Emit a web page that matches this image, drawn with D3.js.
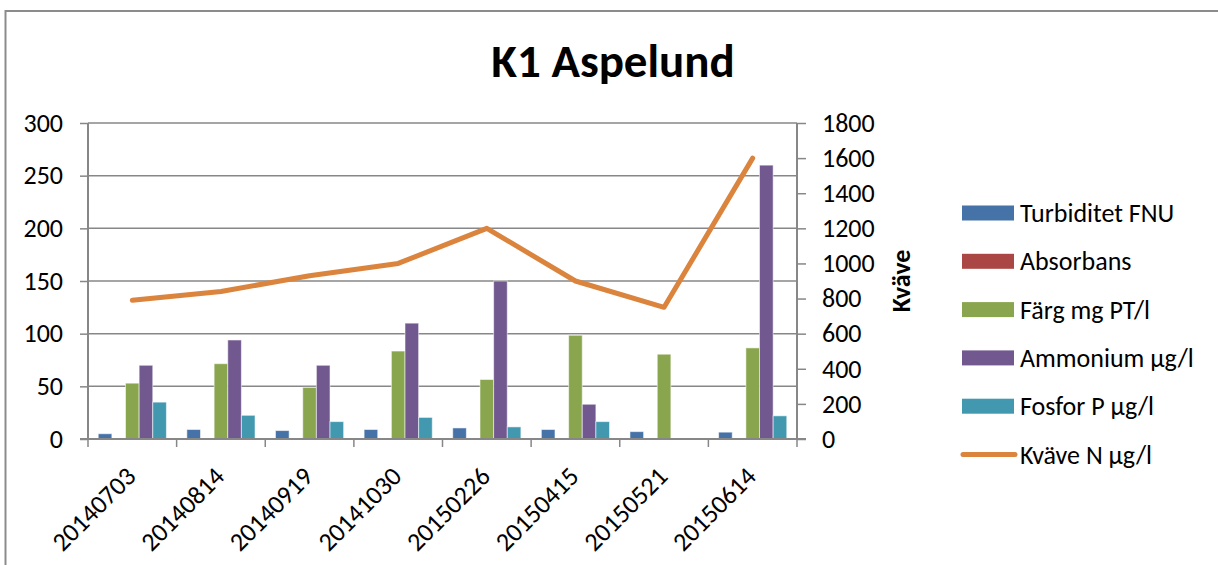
<!DOCTYPE html>
<html>
<head>
<meta charset="utf-8">
<script src="https://cdn.jsdelivr.net/npm/d3@7"></script>
<style>
  body { margin: 0; background: #fff; }
  svg text { font-family: Calibri, Carlito, Lato, sans-serif; fill: #000; }
</style>
</head>
<body>
<div id="chart"></div>
<script>
// Data
const dates = ['20140703', '20140814', '20140919', '20141030', '20150226', '20150415', '20150521', '20150614'];
const turbiditet = [5, 9, 8, 9, 10.5, 9, 7, 6.5];
const absorbans = [0, 0, 0, 0, 0, 0, 0, 0];
const farg = [53, 71.5, 49, 83.5, 56.5, 98.5, 80.5, 86.5];
const ammonium = [70, 94, 70, 110, 150, 33, null, 260];
const fosfor = [35, 22.5, 16.5, 20.5, 11.5, 16.5, null, 22];
const kvave = [790, 840, 930, 1000, 1200, 900, 750, 1600];

const leftTicks = [0, 50, 100, 150, 200, 250, 300];
const rightTicks = [0, 200, 400, 600, 800, 1000, 1200, 1400, 1600, 1800];

const barSeries = [
    {name: 'Turbiditet FNU', values: turbiditet, color: '#4572A7'},
    {name: 'Absorbans', values: absorbans, color: '#AA4643'},
    {name: 'Färg mg PT/l', values: farg, color: '#89A54E'},
    {name: 'Ammonium µg/l', values: ammonium, color: '#71588F'},
    {name: 'Fosfor P µg/l', values: fosfor, color: '#4198AF'}
];
const lineSeries = {name: 'Kväve N µg/l', values: kvave, color: '#DB843D'};

const width = 1218;
const height = 565;
const plot = {left: 88, right: 797, top: 123, bottom: 439};
const gridColor = '#878787';
const fontSize = '26px';

const svg = d3.select('#chart').append('svg')
    .attr('width', width)
    .attr('height', height);

// outer frame
svg.append('rect')
    .attr('x', 5.5).attr('y', 11)
    .attr('width', width + 20).attr('height', height + 20)
    .attr('fill', 'none')
    .attr('stroke', '#8c8c8c')
    .attr('stroke-width', 2);

// title
svg.append('text')
    .attr('x', 613).attr('y', 77)
    .attr('text-anchor', 'middle')
    .style('font-size', '47px')
    .style('font-weight', 'bold')
    .text('K1 Aspelund');

// Scales
let x = d3.scaleBand()
    .domain(dates)
    .range([plot.left, plot.right]);

let bw = x.bandwidth();
let barW = bw / 6.5;
let xInner = d3.scaleBand()
    .domain(barSeries.map(s => s.name))
    .range([barW * 0.75, bw - barW * 0.75]);

let yLeft = d3.scaleLinear().domain([0, 300]).range([plot.bottom, plot.top]);
let yRight = d3.scaleLinear().domain([0, 1800]).range([plot.bottom, plot.top]);

// gridlines
svg.append('g')
    .selectAll('line')
    .data(leftTicks.filter(d => d > 0)).enter()
    .append('line')
    .attr('x1', plot.left).attr('x2', plot.right)
    .attr('y1', d => yLeft(d)).attr('y2', d => yLeft(d))
    .attr('stroke', gridColor)
    .attr('stroke-width', 1.5);

// bars
let groups = svg.append('g')
    .selectAll('g')
    .data(barSeries).enter()
    .append('g')
    .attr('fill', d => d.color);

groups.selectAll('rect')
    .data(s => s.values.map((v, i) => ({name: s.name, date: dates[i], value: v})).filter(d => d.value))
    .enter()
    .append('rect')
    .attr('x', d => x(d.date) + xInner(d.name))
    .attr('width', xInner.bandwidth())
    .attr('y', d => yLeft(d.value))
    .attr('height', d => plot.bottom - yLeft(d.value))
    .attr('stroke', 'rgba(255,255,255,0.55)')
    .attr('stroke-width', 1);

// line
let line = d3.line()
    .x((d, i) => x(dates[i]) + bw / 2)
    .y(d => yRight(d));

svg.append('path')
    .attr('d', line(lineSeries.values))
    .attr('fill', 'none')
    .attr('stroke', lineSeries.color)
    .attr('stroke-width', 5)
    .attr('stroke-linecap', 'round')
    .attr('stroke-linejoin', 'round');

// Axes
let leftAxis = d3.axisLeft(yLeft).tickValues(leftTicks).tickSize(8).tickPadding(17);
let gL = svg.append('g')
    .attr('transform', `translate(${plot.left},0)`)
    .call(leftAxis);

let rightAxis = d3.axisRight(yRight).tickValues(rightTicks).tickFormat(d3.format('d')).tickSize(9).tickPadding(16);
let gR = svg.append('g')
    .attr('transform', `translate(${plot.right},0)`)
    .call(rightAxis);

[gL, gR].forEach(g => {
    g.select('.domain').attr('stroke', gridColor).attr('stroke-width', 2);
    g.selectAll('.tick line').attr('stroke', gridColor).attr('stroke-width', 1.5);
    g.selectAll('.tick text')
        .style('font-size', fontSize)
        .style('font-family', 'Calibri, Carlito, Lato, sans-serif')
        .attr('fill', '#000');
});
gL.select('.domain').attr('d', `M0,${plot.top}V${plot.bottom}`);
gR.select('.domain').attr('d', `M0,${plot.top}V${plot.bottom}`);

// bottom axis
let gB = svg.append('g');
gB.append('line')
    .attr('x1', plot.left - 8).attr('x2', plot.right + 9)
    .attr('y1', plot.bottom).attr('y2', plot.bottom)
    .attr('stroke', gridColor)
    .attr('stroke-width', 2);

gB.selectAll('.btick')
    .data(dates.concat(['end'])).enter()
    .append('line')
    .attr('class', 'btick')
    .attr('x1', d => d === 'end' ? plot.right : x(d))
    .attr('x2', d => d === 'end' ? plot.right : x(d))
    .attr('y1', plot.bottom).attr('y2', plot.bottom + 8)
    .attr('stroke', gridColor)
    .attr('stroke-width', 1.5);

gB.selectAll('.blabel')
    .data(dates).enter()
    .append('text')
    .attr('class', 'blabel')
    .attr('text-anchor', 'end')
    .attr('transform', d => `translate(${x(d) + bw / 2 + 5},${478}) rotate(-45)`)
    .style('font-size', fontSize)
    .text(d => d);

// right axis title
svg.append('text')
    .attr('transform', 'translate(910,281) rotate(-90)')
    .attr('text-anchor', 'middle')
    .style('font-size', '26px')
    .style('font-weight', 'bold')
    .text('Kväve');

// Legend
let legendItems = barSeries.concat([lineSeries]);
let legend = svg.append('g')
    .selectAll('g')
    .data(legendItems).enter()
    .append('g')
    .attr('transform', (d, i) => `translate(962,${213 + i * 48.3})`);

legend.filter(d => d !== lineSeries)
    .append('rect')
    .attr('x', 0).attr('y', -7.5)
    .attr('width', 52).attr('height', 15)
    .attr('fill', d => d.color);

legend.filter(d => d === lineSeries)
    .append('line')
    .attr('x1', 1).attr('x2', 53)
    .attr('y1', 0).attr('y2', 0)
    .attr('stroke', d => d.color)
    .attr('stroke-width', 5)
    .attr('stroke-linecap', 'round');

legend.append('text')
    .attr('x', 58)
    .attr('y', 9)
    .style('font-size', fontSize)
    .text(d => d.name);
</script>
</body>
</html>
